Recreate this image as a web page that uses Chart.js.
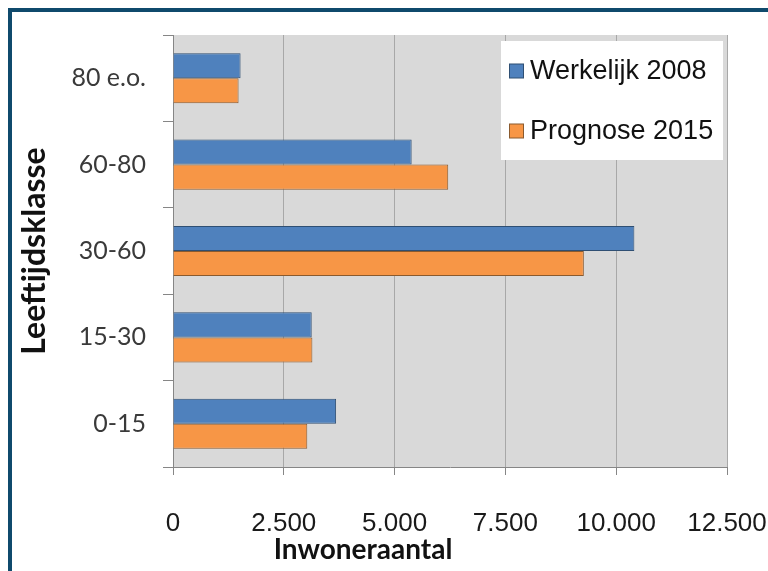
<!DOCTYPE html>
<html>
<head>
<meta charset="utf-8">
<script src="https://cdn.jsdelivr.net/npm/chart.js@4"></script>
<style>
    html, body { margin: 0; padding: 0; background: #fff; overflow: hidden; }
    #wrap { position: relative; width: 768px; height: 571px; }
    #frame {
        position: absolute; left: 8px; top: 8px; width: 800px; height: 620px;
        border: 4px solid #0f4a6c; pointer-events: none;
    }
</style>
</head>
<body>
<div id="wrap">
    <canvas id="chart" width="768" height="571"></canvas>
    <div id="frame"></div>
</div>
<script>
const categories = ["80 e.o.", "60-80", "30-60", "15-30", "0-15"];
const werkelijk2008 = [1525, 5385, 10410, 3130, 3680];
const prognose2015 = [1480, 6210, 9270, 3145, 3030];
const xTickLabels = ["0", "2.500", "5.000", "7.500", "10.000", "12.500"];
const seriesNames = ["Werkelijk 2008", "Prognose 2015"];

// legend box drawn inside the plot, like the spreadsheet one
const boxLegend = {
    id: "boxLegend",
    afterDraw(chart) {
        const ctx = chart.ctx;
        const area = chart.chartArea;
        const left = area.right - 226;
        const top = area.top + 6;
        ctx.save();
        ctx.fillStyle = "#ffffff";
        ctx.fillRect(left, top, 222, 119);
        ctx.font = "27px 'Liberation Sans', Arial, sans-serif";
        ctx.textBaseline = "middle";
        chart.data.datasets.forEach((ds, i) => {
            const cy = top + 30 + i * 60;
            ctx.fillStyle = ds.backgroundColor;
            ctx.strokeStyle = ds.borderColor;
            ctx.lineWidth = 1;
            ctx.fillRect(left + 8.5, cy - 7, 14, 14);
            ctx.strokeRect(left + 8.5, cy - 7, 14, 14);
            ctx.fillStyle = "#111";
            ctx.fillText(ds.label, left + 29, cy + 1);
        });
        ctx.restore();
    }
};

// x axis title sits left of centre in the original
const xTitle = {
    id: "xTitle",
    afterDraw(chart) {
        const ctx = chart.ctx;
        const area = chart.chartArea;
        ctx.save();
        ctx.font = "bold 28px Lato, sans-serif";
        ctx.fillStyle = "#111";
        ctx.textAlign = "center";
        ctx.textBaseline = "alphabetic";
        ctx.fillText("Inwoneraantal", area.left + 190, area.bottom + 92);
        ctx.restore();
    }
};

new Chart(document.getElementById("chart"), {
    type: "bar",
    data: {
        labels: categories,
        datasets: [{
            label: seriesNames[0],
            data: werkelijk2008,
            backgroundColor: "#4f81bd",
            borderColor: "#2f4f73",
            borderWidth: 1,
            categoryPercentage: 0.58,
            barPercentage: 1.0
        }, {
            label: seriesNames[1],
            data: prognose2015,
            backgroundColor: "#f79646",
            borderColor: "#8a5a2e",
            borderWidth: 1,
            categoryPercentage: 0.58,
            barPercentage: 1.0
        }]
    },
    options: {
        indexAxis: "y",
        responsive: false,
        animation: false,
        layout: { padding: { left: 0, top: 35, right: 41, bottom: 0 } },
        plugins: {
            legend: { display: false },
            tooltip: { enabled: false }
        },
        scales: {
            x: {
                min: 0,
                max: 12500,
                afterFit: scale => {
                    scale.height = 104;
                    scale.paddingLeft = 0;
                    scale.paddingRight = 0;
                },
                afterBuildTicks: scale => {
                    scale.ticks = xTickLabels.map((t, i) => ({ value: i * 2500 }));
                },
                ticks: {
                    callback: (v, i) => xTickLabels[i],
                    font: { family: "'Liberation Sans', Arial, sans-serif", size: 26 },
                    color: "#1a1a1a",
                    padding: 33,
                    maxRotation: 0
                },
                grid: {
                    color: "#a8a8a8",
                    tickColor: "#868686",
                    tickLength: 8
                },
                border: { color: "#868686" }
            },
            y: {
                afterFit: scale => { scale.width = 173; },
                ticks: {
                    font: { family: "Lato, sans-serif", size: 25 },
                    color: "#3a3a3a",
                    padding: 17
                },
                grid: {
                    drawOnChartArea: false,
                    tickColor: "#868686",
                    tickLength: 10
                },
                border: { color: "#868686" },
                title: {
                    display: true,
                    text: "Leeftijdsklasse",
                    font: { family: "Lato, sans-serif", size: 32, weight: "bold" },
                    color: "#111",
                    padding: { top: 15, bottom: 0 }
                }
            }
        }
    },
    plugins: [
        {
            id: "plotBg",
            beforeDraw(chart) {
                const a = chart.chartArea;
                chart.ctx.save();
                chart.ctx.fillStyle = "#d9d9d9";
                chart.ctx.fillRect(a.left, a.top, a.right - a.left, a.bottom - a.top);
                chart.ctx.restore();
            }
        },
        boxLegend,
        xTitle
    ]
});
</script>
</body>
</html>
